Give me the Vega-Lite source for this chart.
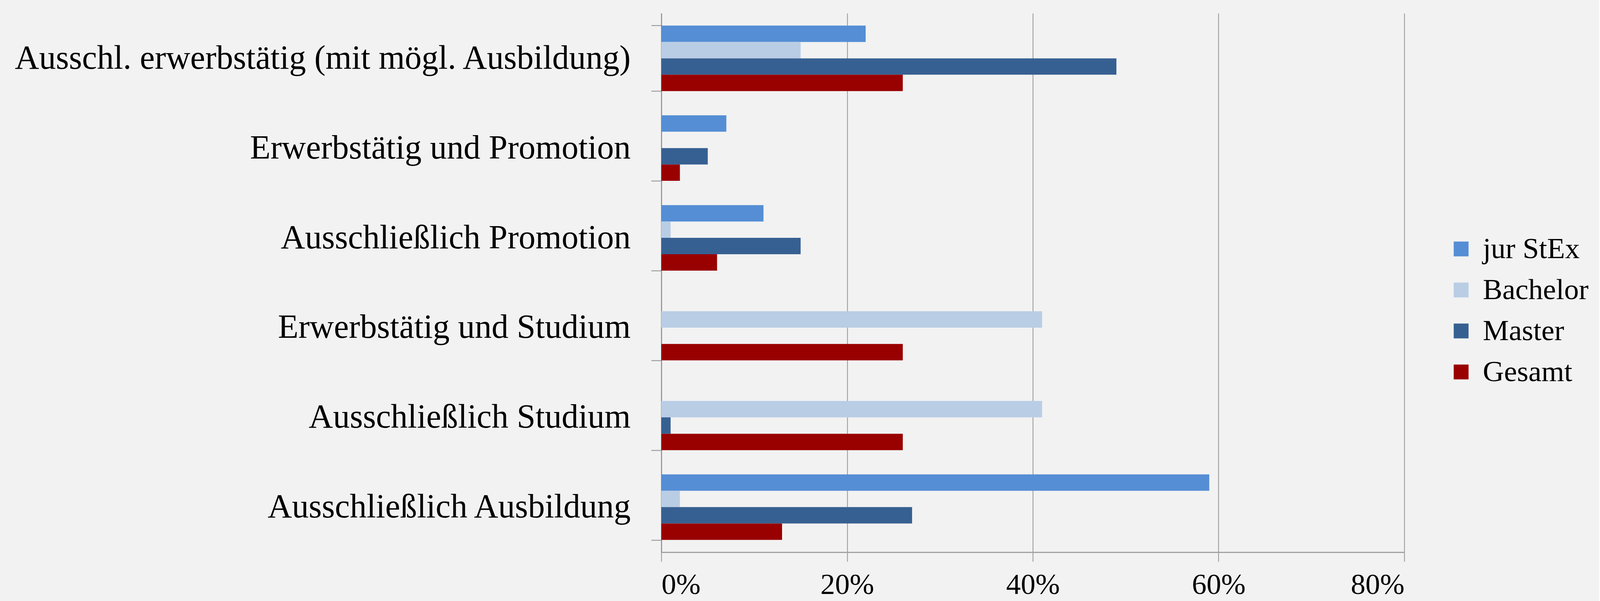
{
  "$schema": "https://vega.github.io/schema/vega-lite/v6.json",
  "width": 1902,
  "height": 1380,
  "autosize": {"type": "none"},
  "padding": {"left": 1693, "top": 34, "right": 499, "bottom": 125},
  "background": "#f2f2f2",
  "config": {
    "view": {"stroke": null},
    "font": "Liberation Serif"
  },
  "data": {
    "values": [
      {"kategorie": "Ausschl. erwerbstätig (mit mögl. Ausbildung)", "gruppe": "jur StEx", "anteil": 0.22},
      {"kategorie": "Ausschl. erwerbstätig (mit mögl. Ausbildung)", "gruppe": "Bachelor", "anteil": 0.15},
      {"kategorie": "Ausschl. erwerbstätig (mit mögl. Ausbildung)", "gruppe": "Master", "anteil": 0.49},
      {"kategorie": "Ausschl. erwerbstätig (mit mögl. Ausbildung)", "gruppe": "Gesamt", "anteil": 0.26},
      {"kategorie": "Erwerbstätig und Promotion", "gruppe": "jur StEx", "anteil": 0.07},
      {"kategorie": "Erwerbstätig und Promotion", "gruppe": "Bachelor", "anteil": 0.0},
      {"kategorie": "Erwerbstätig und Promotion", "gruppe": "Master", "anteil": 0.05},
      {"kategorie": "Erwerbstätig und Promotion", "gruppe": "Gesamt", "anteil": 0.02},
      {"kategorie": "Ausschließlich Promotion", "gruppe": "jur StEx", "anteil": 0.11},
      {"kategorie": "Ausschließlich Promotion", "gruppe": "Bachelor", "anteil": 0.01},
      {"kategorie": "Ausschließlich Promotion", "gruppe": "Master", "anteil": 0.15},
      {"kategorie": "Ausschließlich Promotion", "gruppe": "Gesamt", "anteil": 0.06},
      {"kategorie": "Erwerbstätig und Studium", "gruppe": "jur StEx", "anteil": 0.0},
      {"kategorie": "Erwerbstätig und Studium", "gruppe": "Bachelor", "anteil": 0.41},
      {"kategorie": "Erwerbstätig und Studium", "gruppe": "Master", "anteil": 0.0},
      {"kategorie": "Erwerbstätig und Studium", "gruppe": "Gesamt", "anteil": 0.26},
      {"kategorie": "Ausschließlich Studium", "gruppe": "jur StEx", "anteil": 0.0},
      {"kategorie": "Ausschließlich Studium", "gruppe": "Bachelor", "anteil": 0.41},
      {"kategorie": "Ausschließlich Studium", "gruppe": "Master", "anteil": 0.01},
      {"kategorie": "Ausschließlich Studium", "gruppe": "Gesamt", "anteil": 0.26},
      {"kategorie": "Ausschließlich Ausbildung", "gruppe": "jur StEx", "anteil": 0.59},
      {"kategorie": "Ausschließlich Ausbildung", "gruppe": "Bachelor", "anteil": 0.02},
      {"kategorie": "Ausschließlich Ausbildung", "gruppe": "Master", "anteil": 0.27},
      {"kategorie": "Ausschließlich Ausbildung", "gruppe": "Gesamt", "anteil": 0.13}
    ]
  },
  "mark": {"type": "bar"},
  "encoding": {
    "y": {
      "field": "kategorie",
      "type": "nominal",
      "sort": [
        "Ausschl. erwerbstätig (mit mögl. Ausbildung)",
        "Erwerbstätig und Promotion",
        "Ausschließlich Promotion",
        "Erwerbstätig und Studium",
        "Ausschließlich Studium",
        "Ausschließlich Ausbildung"
      ],
      "scale": {"paddingInner": 0.27, "paddingOuter": 0.137},
      "axis": {
        "title": null,
        "labelFont": "Liberation Serif",
        "labelFontSize": 86,
        "labelColor": "#000000",
        "labelPadding": 53,
        "labelLimit": 2000,
        "tickSize": 26,
        "tickWidth": 2,
        "tickColor": "#8c8c8c",
        "tickBand": "extent",
        "domainColor": "#8c8c8c",
        "domainWidth": 2.3,
        "grid": false
      }
    },
    "yOffset": {
      "field": "gruppe",
      "type": "nominal",
      "sort": ["jur StEx", "Bachelor", "Master", "Gesamt"],
      "scale": {"paddingInner": 0, "paddingOuter": 0}
    },
    "x": {
      "field": "anteil",
      "type": "quantitative",
      "scale": {"domain": [0, 0.8], "nice": false},
      "axis": {
        "title": null,
        "format": ".0%",
        "values": [0, 0.2, 0.4, 0.6, 0.8],
        "labelFont": "Liberation Serif",
        "labelFontSize": 75,
        "labelColor": "#000000",
        "labelPadding": 23,
        "tickSize": 24,
        "tickWidth": 1.8,
        "tickColor": "#8c8c8c",
        "domainColor": "#a0a0a0",
        "domainWidth": 2.8,
        "grid": true,
        "gridColor": "#8c8c8c",
        "gridWidth": 1.8
      }
    },
    "color": {
      "field": "gruppe",
      "type": "nominal",
      "sort": ["jur StEx", "Bachelor", "Master", "Gesamt"],
      "scale": {
        "domain": ["jur StEx", "Bachelor", "Master", "Gesamt"],
        "range": ["#558ed5", "#b9cde5", "#376092", "#990000"]
      },
      "legend": {
        "title": null,
        "orient": "none",
        "legendX": 2010,
        "legendY": 566,
        "symbolType": "square",
        "symbolSize": 1444,
        "symbolStrokeWidth": 0,
        "symbolOpacity": 1,
        "labelFont": "Liberation Serif",
        "labelFontSize": 75,
        "labelColor": "#000000",
        "labelOffset": 18,
        "labelLimit": 600,
        "rowPadding": 29
      }
    }
  }
}
